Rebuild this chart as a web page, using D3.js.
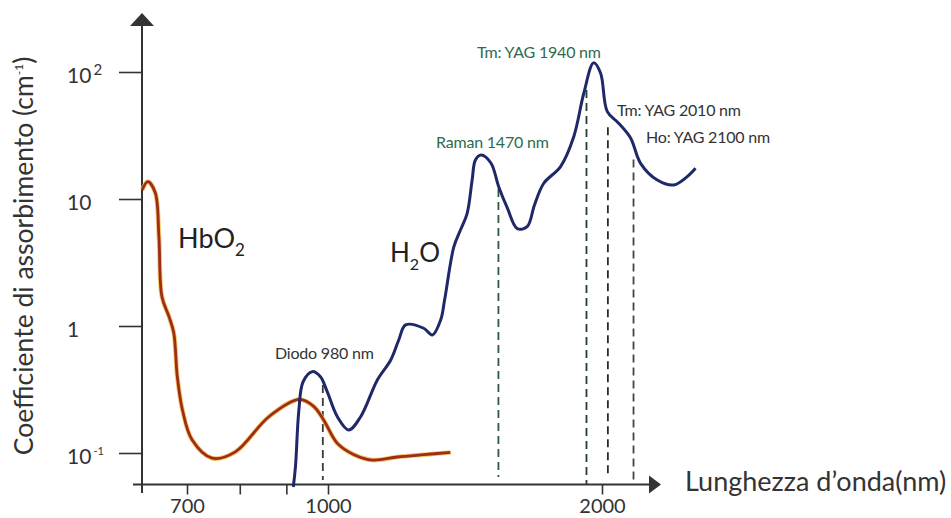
<!DOCTYPE html>
<html>
<head>
<meta charset="utf-8">
<script src="https://cdn.jsdelivr.net/npm/d3@7"></script>
<style>
  html, body { margin: 0; padding: 0; background: #fff; }
  svg { display: block; }
  text { font-family: Lato, "Open Sans", sans-serif; }
</style>
</head>
<body>
<svg id="chart" width="951" height="518"></svg>
<script>
// ---- data ----
const hbo2Wavelength = [625, 634, 646, 652, 657, 669, 677, 683, 692, 709, 746, 791, 861, 930, 965, 989, 1024, 1068, 1119, 1192, 1274, 1363];
const hbo2Absorption = [11.8, 13.7, 11.2, 5.05, 1.70, 1.18, 0.88, 0.40, 0.218, 0.127, 0.091, 0.102, 0.193, 0.264, 0.232, 0.182, 0.119, 0.097, 0.088, 0.093, 0.097, 0.101];

const h2oWavelength = [916, 921, 929, 939, 961, 981, 998, 1024, 1054, 1086, 1133, 1172, 1196, 1217, 1274, 1302, 1330, 1343, 1375, 1398, 1422, 1440, 1452, 1473, 1510, 1540, 1574, 1614, 1655, 1686, 1726, 1801, 1862, 1910, 1958, 1993, 2027, 2086, 2150, 2205, 2300, 2399, 2481, 2534];
const h2oAbsorption = [0.054, 0.078, 0.218, 0.364, 0.437, 0.399, 0.304, 0.193, 0.152, 0.193, 0.376, 0.54, 0.776, 1.02, 0.96, 0.85, 1.12, 1.60, 4.21, 5.70, 7.72, 14.1, 20.3, 22.2, 19.2, 12.5, 8.5, 5.84, 6.05, 8.97, 13.3, 18.0, 30.9, 68.0, 118, 97.7, 48.7, 39.5, 30.2, 19.1, 14.1, 12.9, 15.0, 17.45];

const laserLabels = ["Diodo 980 nm", "Raman 1470 nm", "Tm: YAG 1940 nm", "Tm: YAG 2010 nm", "Ho: YAG 2100 nm"];
const laserLinePos = [987, 1539, 1923, 2030, 2166]; // wavelength where the dashed line sits on the drawn axis

const xTickValues = [700, 800, 900, 1000, 2000];
const xTickLabels = ["700", "", "", "1000", "2000"];
const yTickValues = [0.1, 1, 10, 100];
const yTickBase = ["10", "1", "10", "10"];
const yTickExp = ["-1", "", "", "2"];

// ---- layout / style ----
const svg = d3.select("#chart");
const axisColor = "#333";
const x = d3.scaleLog().domain([700, 2000]).range([187, 602]);
const y = d3.scaleLog().domain([0.1, 100]).range([453, 72]);
const originX = 142, originY = 484.5;

const labelLayout = [
  { x: 275, y: 359, color: "#333" },
  { x: 436, y: 148, color: "#2f6b50" },
  { x: 477, y: 58, color: "#2f6b50" },
  { x: 617, y: 116, color: "#333" },
  { x: 646, y: 143, color: "#333" }
];
const lineStyle = [
  { color: "#3a3a3a", gap: 3, bottom: 480 },
  { color: "#2c5a45", gap: 3, bottom: 477 },
  { color: "#22402f", gap: 5, bottom: 485 },
  { color: "#2a2a2a", gap: 15, bottom: 478 },
  { color: "#3a4a40", gap: 14, bottom: 485 }
];

// ---- axes ----
// x axis
svg.append("line").attr("x1", 133).attr("x2", 650).attr("y1", originY).attr("y2", originY)
  .attr("stroke", axisColor).attr("stroke-width", 2);
svg.append("path").attr("d", `M649,${originY - 9} L661,${originY} L649,${originY + 9} Z`).attr("fill", "#333");
const xAxis = svg.append("g").attr("transform", `translate(0,${originY})`)
  .call(d3.axisBottom(x).tickValues(xTickValues).tickSize(10).tickSizeOuter(0)
    .tickFormat((d, i) => xTickLabels[i]));
xAxis.select(".domain").remove();
xAxis.selectAll(".tick line").attr("stroke", axisColor).attr("stroke-width", 1.6);
xAxis.selectAll(".tick text").attr("y", 28.5).attr("dy", 0).attr("fill", "#333")
  .style("font-size", "20px").style("font-family", "Lato, sans-serif");

// y axis
svg.append("line").attr("x1", originX).attr("x2", originX).attr("y1", 25).attr("y2", 493)
  .attr("stroke", axisColor).attr("stroke-width", 2);
svg.append("path").attr("d", `M${originX - 12},26 L${originX},13 L${originX + 12},26 Z`).attr("fill", "#333");
const yAxis = svg.append("g").attr("transform", `translate(${originX},0)`)
  .call(d3.axisLeft(y).tickValues(yTickValues).tickSize(23).tickSizeOuter(0).tickFormat(""));
yAxis.select(".domain").remove();
yAxis.selectAll(".tick line").attr("stroke", axisColor).attr("stroke-width", 1.6);
yAxis.selectAll(".tick").each(function (d, i) {
  const t = d3.select(this).append("text")
    .attr("x", -75).attr("y", 10).attr("text-anchor", "start").attr("fill", "#333")
    .style("font-size", "21px");
  t.append("tspan").text(yTickBase[i]);
  if (yTickExp[i]) {
    t.append("tspan").attr("dy", yTickExp[i] === "2" ? -8 : -9).attr("dx", 2)
      .style("font-size", yTickExp[i] === "2" ? "15px" : "11px").text(yTickExp[i]);
  }
});

// axis titles
const yTitle = svg.append("text").attr("transform", "translate(33,256) rotate(-90)")
  .attr("text-anchor", "middle").attr("fill", "#333").style("font-size", "26.5px");
yTitle.append("tspan").text("Coefficiente di assorbimento (cm");
yTitle.append("tspan").attr("dy", -10).style("font-size", "12px").text("-1");
yTitle.append("tspan").attr("dy", 10).text(")");

svg.append("text").attr("x", 685).attr("y", 491).attr("fill", "#333")
  .style("font-size", "27px").text("Lunghezza d\u2019onda(nm)");

// ---- curves ----
const line = d3.line().x(d => x(d[0])).y(d => y(d[1])).curve(d3.curveCatmullRom.alpha(0.5));
const hbo2 = hbo2Wavelength.map((w, i) => [w, hbo2Absorption[i]]);
const h2o = h2oWavelength.map((w, i) => [w, h2oAbsorption[i]]);

// dashed laser lines
function h2oAt(w) {
  for (let i = 0; i < h2oWavelength.length - 1; i++) {
    const a = h2oWavelength[i], b = h2oWavelength[i + 1];
    if (w >= a && w <= b) {
      const t = (Math.log(w) - Math.log(a)) / (Math.log(b) - Math.log(a));
      return Math.exp(Math.log(h2oAbsorption[i]) * (1 - t) + Math.log(h2oAbsorption[i + 1]) * t);
    }
  }
  return h2oAbsorption[0];
}
laserLinePos.forEach((w, i) => {
  svg.append("line")
    .attr("x1", x(w)).attr("x2", x(w))
    .attr("y1", y(h2oAt(w)) + lineStyle[i].gap).attr("y2", lineStyle[i].bottom)
    .attr("stroke", lineStyle[i].color).attr("stroke-width", 1.8)
    .attr("stroke-dasharray", "8,5");
});

svg.append("path").datum(hbo2).attr("d", line).attr("fill", "none")
  .attr("stroke", "#f2b34a").attr("stroke-width", 4.6).attr("stroke-linejoin", "round").attr("opacity", 0.8);
svg.append("path").datum(hbo2).attr("d", line).attr("fill", "none")
  .attr("stroke", "#9c2e14").attr("stroke-width", 2.8).attr("stroke-linejoin", "round");

svg.append("path").datum(h2o).attr("d", line).attr("fill", "none")
  .attr("stroke", "#1f2868").attr("stroke-width", 3).attr("stroke-linejoin", "round");

// laser labels
laserLabels.forEach((s, i) => {
  svg.append("text").attr("x", labelLayout[i].x).attr("y", labelLayout[i].y)
    .attr("fill", labelLayout[i].color).style("font-size", "16px").style("letter-spacing", "-0.2px").text(s);
});

// substance labels
const hb = svg.append("text").attr("x", 178).attr("y", 248).attr("fill", "#222").style("font-size", "27px");
hb.append("tspan").text("HbO");
hb.append("tspan").attr("dy", 8).style("font-size", "17px").text("2");

const hw = svg.append("text").attr("x", 390).attr("y", 262).attr("fill", "#222").style("font-size", "26px");
hw.append("tspan").text("H");
hw.append("tspan").attr("dy", 8).style("font-size", "16px").text("2");
hw.append("tspan").attr("dy", -8).text("O");
</script>
</body>
</html>
